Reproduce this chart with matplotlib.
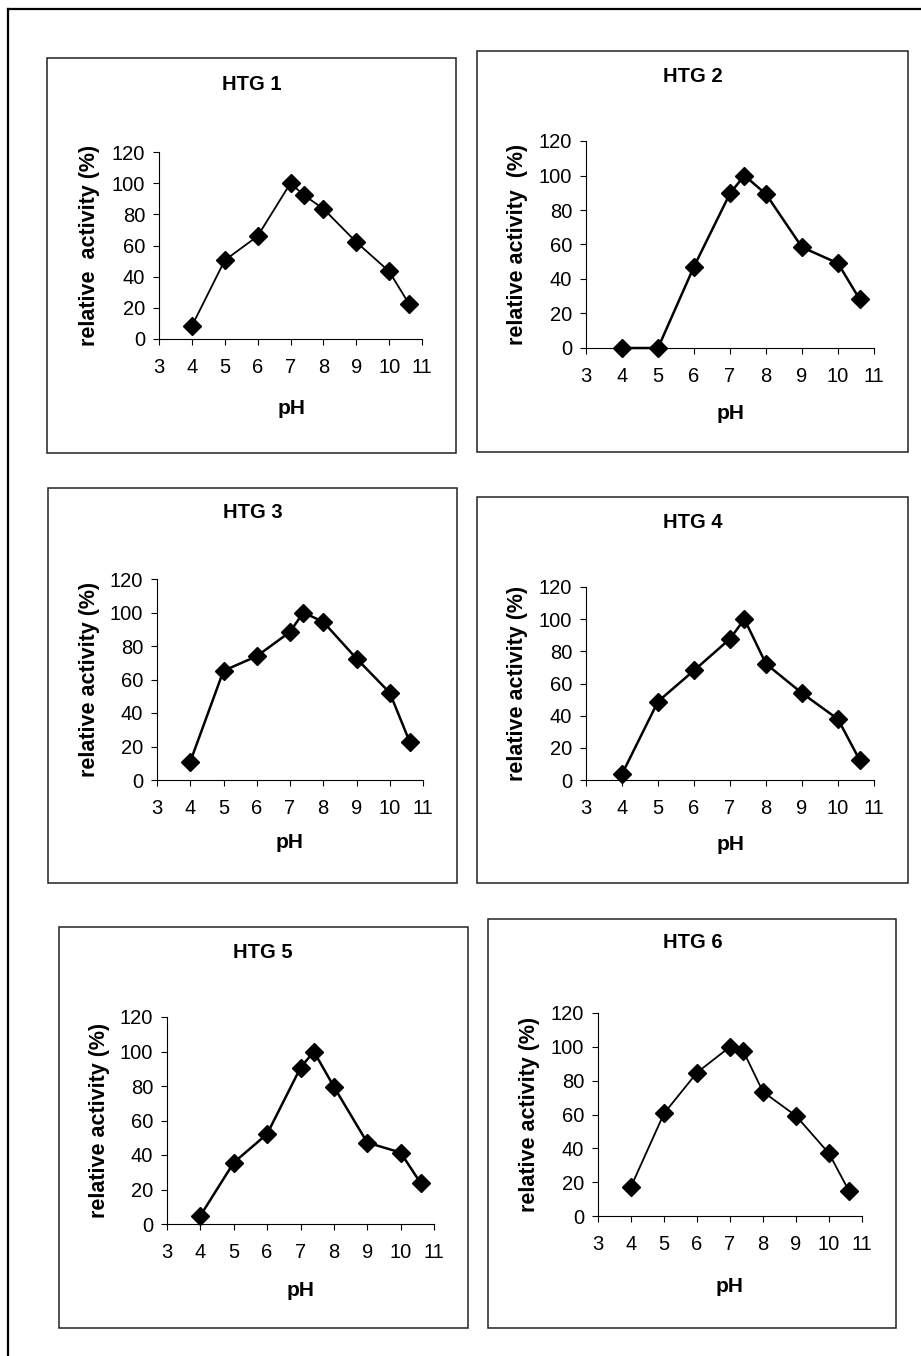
import numpy as np
import matplotlib.pyplot as plt
from matplotlib.patches import Rectangle
from matplotlib.lines import Line2D

plt.rcParams['font.family'] = ['Liberation Sans', 'DejaVu Sans']

# pH values measured (same for every isolate)
ph = [4, 5, 6, 7, 7.4, 8, 9, 10, 10.6]

# relative activity (%) for each isolate
htg1 = [8.3, 50.5, 66, 100, 92.4, 83.6, 62.2, 43.4, 22.7]
htg2 = [0, 0, 47.2, 89.6, 100, 89.2, 58.4, 49.1, 28.3]
htg3 = [10.9, 65.2, 73.9, 88.4, 100, 94.4, 72.5, 52.1, 22.8]
htg4 = [3.7, 48.8, 68.1, 87.8, 100, 72.2, 54, 37.8, 12.5]
htg5 = [4.8, 35.6, 52.2, 90.6, 100, 79.6, 47.2, 41.4, 23.7]
htg6 = [17.3, 60.6, 84.8, 100, 97.6, 73.4, 59.2, 37, 15]

titles = ["HTG 1", "HTG 2", "HTG 3", "HTG 4", "HTG 5", "HTG 6"]
ylabels = ["relative  activity (%)", "relative activity  (%)",
           "relative activity (%)", "relative activity (%)",
           "relative activity (%)", "relative activity (%)"]
series = [htg1, htg2, htg3, htg4, htg5, htg6]
xticks = [3, 4, 5, 6, 7, 8, 9, 10, 11]
yticks = [0, 20, 40, 60, 80, 100, 120]

W, H = 921, 1356
fig = plt.figure(figsize=(W / 100, H / 100), dpi=100)


def fx(px):
    return px / W


def fy(py):
    return 1 - py / H


# layout in pixels: box (x0, y0, x1, y1), axes (left, top, right, bottom),
# title (x, y), xlabel (x, y), ylabel x, line width
layout = [
    dict(box=(47, 58, 456, 453), ax=(159, 152, 422, 339), title=(252, 85), xl=(292, 408), yl=89, lw=1.3),
    dict(box=(477, 51, 908, 452), ax=(586, 141, 874, 348), title=(693, 77), xl=(731, 413), yl=517, lw=1.8),
    dict(box=(48, 488, 457, 883), ax=(157, 579, 423, 780), title=(253, 513), xl=(290, 843), yl=89, lw=1.8),
    dict(box=(477, 497, 908, 883), ax=(586, 587, 874, 780), title=(693, 523), xl=(731, 845), yl=517, lw=1.8),
    dict(box=(59, 927, 468, 1328), ax=(167, 1017, 434, 1224), title=(263, 953), xl=(301, 1290), yl=99, lw=1.8),
    dict(box=(488, 919, 896, 1328), ax=(598, 1013, 862, 1216), title=(693, 943), xl=(730, 1287), yl=529, lw=1.3),
]

# outer frame
fig.add_artist(Line2D([fx(8), fx(8)], [fy(9), 0], color='black', lw=1.6))
fig.add_artist(Line2D([fx(8), 1], [fy(9), fy(9)], color='black', lw=1.6))

for lay, title, ylab, vals in zip(layout, titles, ylabels, series):
    bx0, by0, bx1, by1 = lay['box']
    fig.add_artist(Rectangle((fx(bx0), fy(by1)), fx(bx1 - bx0), (by1 - by0) / H,
                             fill=False, ec='#222222', lw=1.1))
    l, t, r, b = lay['ax']
    ax = fig.add_axes([fx(l), fy(b), fx(r - l), (b - t) / H])
    ax.plot(ph, vals, color='black', lw=lay['lw'], marker='D', ms=9,
            markerfacecolor='black', markeredgecolor='black', clip_on=False)
    ax.set_xlim(3, 11)
    ax.set_ylim(0, 120)
    ax.set_xticks(xticks)
    ax.set_yticks(yticks)
    ax.spines['top'].set_visible(False)
    ax.spines['right'].set_visible(False)
    for s in ['left', 'bottom']:
        ax.spines[s].set_linewidth(0.8)
    ax.tick_params(axis='x', direction='out', length=4, width=0.8, pad=10, labelsize=14.5)
    ax.tick_params(axis='y', direction='out', length=4, width=0.8, pad=6, labelsize=14.5)
    ax.patch.set_alpha(0)

    fig.text(fx(lay['title'][0]), fy(lay['title'][1]), title, ha='center', va='center',
             fontsize=14.5, fontweight='bold')
    fig.text(fx(lay['xl'][0]), fy(lay['xl'][1]), "pH", ha='center', va='center',
             fontsize=15, fontweight='bold')
    fig.text(fx(lay['yl']), fy((t + b) / 2), ylab, ha='center', va='center',
             rotation=90, fontsize=15.5, fontweight='bold')

fig.savefig("out.png", dpi=100)
